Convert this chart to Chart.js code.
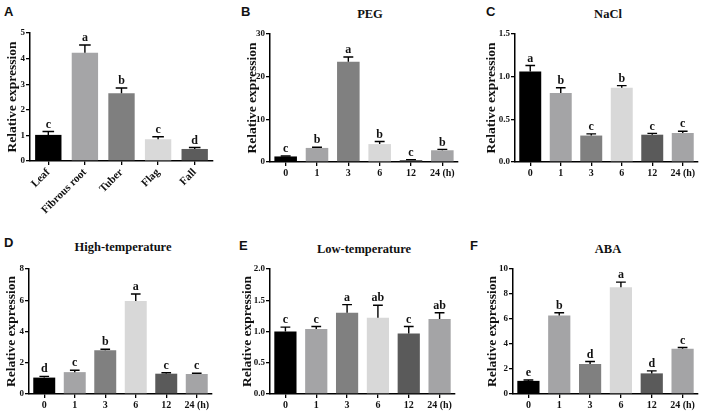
<!DOCTYPE html>
<html>
<head>
<meta charset="utf-8">
<script src="https://cdn.jsdelivr.net/npm/chart.js@4.4.0/dist/chart.umd.min.js"></script>
<style>
  body { margin: 0; background: #fff; width: 708px; height: 411px; position: relative; overflow: hidden; }
  canvas { position: absolute; }
  .tag { position: absolute; font: bold 13px "Liberation Sans", Arial, sans-serif; color: #111; }
  .ttl { position: absolute; font: bold 12.5px "Liberation Serif", "Times New Roman", serif; color: #111; transform: translateX(-50%); white-space: nowrap; }
</style>
</head>
<body>
<div class="tag" style="left:4px;top:4px">A</div>
<div class="tag" style="left:241px;top:4px">B</div>
<div class="tag" style="left:486px;top:4px">C</div>
<div class="tag" style="left:4px;top:235px">D</div>
<div class="tag" style="left:239px;top:238px">E</div>
<div class="tag" style="left:470px;top:238px">F</div>
<div class="ttl" style="left:370px;top:7px">PEG</div>
<div class="ttl" style="left:608px;top:7px">NaCl</div>
<div class="ttl" style="left:123px;top:240px">High-temperature</div>
<div class="ttl" style="left:364px;top:242px">Low-temperature</div>
<div class="ttl" style="left:608px;top:242px">ABA</div>

<canvas id="cA"></canvas>
<canvas id="cB"></canvas>
<canvas id="cC"></canvas>
<canvas id="cD"></canvas>
<canvas id="cE"></canvas>
<canvas id="cF"></canvas>

<script>
// tissues (A)
const tissues = ["Leaf", "Fibrous root", "Tuber", "Flag", "Fall"];
const tissueMeans = [1.02, 4.23, 2.65, 0.85, 0.47];
const tissueSD = [0.13, 0.30, 0.20, 0.10, 0.06];
const tissueSig = ["c", "a", "b", "c", "d"];
const tissueTicks = [0, 1, 2, 3, 4, 5];

// time points for stress treatments
const hours = ["0", "1", "3", "6", "12", "24 (h)"];

const pegMeans = [1.3, 3.3, 23.5, 4.2, 0.45, 2.75];
const pegSD = [0.1, 0.15, 1.1, 0.6, 0.1, 0.2];
const pegSig = ["c", "b", "a", "b", "c", "b"];
const pegTicks = [0, 10, 20, 30];

const naclMeans = [1.06, 0.81, 0.31, 0.87, 0.32, 0.34];
const naclSD = [0.07, 0.06, 0.02, 0.025, 0.015, 0.02];
const naclSig = ["a", "b", "c", "b", "c", "c"];
const naclTicks = [0, 0.5, 1.0, 1.5];

const highMeans = [1.05, 1.4, 2.8, 5.95, 1.3, 1.28];
const highSD = [0.08, 0.12, 0.06, 0.45, 0.06, 0.05];
const highSig = ["d", "c", "b", "a", "c", "c"];
const highTicks = [0, 2, 4, 6, 8];

const lowMeans = [1.0, 1.04, 1.3, 1.22, 0.97, 1.2];
const lowSD = [0.07, 0.04, 0.13, 0.2, 0.11, 0.1];
const lowSig = ["c", "c", "a", "ab", "c", "ab"];
const lowTicks = [0, 0.5, 1.0, 1.5, 2.0];

const abaMeans = [1.05, 6.28, 2.4, 8.55, 1.65, 3.62];
const abaSD = [0.07, 0.22, 0.2, 0.4, 0.2, 0.1];
const abaSig = ["e", "b", "d", "a", "d", "c"];
const abaTicks = [0, 2, 4, 6, 8, 10];

const greys5 = ["#000000", "#a5a5a7", "#7f7f7f", "#d9d9d9", "#5c5c5c"];
const greys6 = ["#000000", "#a4a4a6", "#808080", "#d8d8d8", "#5a5a5a", "#a4a4a6"];

const serif = '"Liberation Serif", "Times New Roman", serif';

// error bars (upper only) + significance letters
const errorBars = {
    id: "errbars",
    afterDatasetsDraw(chart, args, opts) {
        const ctx = chart.ctx;
        const y = chart.scales.y;
        const means = chart.data.datasets[0].data;
        ctx.save();
        ctx.strokeStyle = "#000";
        ctx.lineWidth = 1.4;
        ctx.fillStyle = "#111";
        ctx.font = "bold 12px " + serif;
        ctx.textAlign = "center";
        ctx.textBaseline = "bottom";
        chart.getDatasetMeta(0).data.forEach((bar, i) => {
            const top = y.getPixelForValue(means[i] + opts.sd[i]);
            const half = bar.width * 0.22;
            ctx.beginPath();
            ctx.moveTo(bar.x, bar.y);
            ctx.lineTo(bar.x, top);
            ctx.moveTo(bar.x - half, top);
            ctx.lineTo(bar.x + half, top);
            ctx.stroke();
            ctx.fillText(opts.sig[i], bar.x, top - 1);
        });
        ctx.restore();
    }
};

function makePanel(id, box, plot, titlePad, labels, means, sd, sig, yTicks, decimals, colors, rotate) {
    const canvas = document.getElementById(id);
    canvas.width = box.w;
    canvas.height = box.h;
    canvas.style.left = box.x + "px";
    canvas.style.top = box.y + "px";

    const yWidth = plot.left - box.x;
    const xHeight = box.y + box.h - plot.bottom;

    return new Chart(canvas.getContext("2d"), {
        type: "bar",
        data: {
            labels: labels,
            datasets: [{
                data: means,
                backgroundColor: colors,
                borderWidth: 0,
                barPercentage: 0.72,
                categoryPercentage: 1
            }]
        },
        options: {
            responsive: false,
            animation: false,
            layout: {
                padding: { top: plot.top - box.y, right: box.x + box.w - plot.right, left: 0, bottom: 0 }
            },
            plugins: {
                legend: { display: false },
                tooltip: { enabled: false },
                errbars: { sd: sd, sig: sig }
            },
            scales: {
                x: {
                    offset: true,
                    grid: { display: true, drawOnChartArea: false, offset: false, tickLength: 4, color: "#000", lineWidth: 1.3 },
                    border: { display: true, color: "#000", width: 1.5 },
                    ticks: {
                        color: "#111",
                        autoSkip: false,
                        padding: 1,
                        minRotation: rotate ? 45 : 0,
                        maxRotation: rotate ? 45 : 0,
                        font: { family: serif, weight: "bold", size: rotate ? 11 : 10 }
                    },
                    afterFit(scale) { scale.height = xHeight; }
                },
                y: {
                    min: yTicks[0],
                    max: yTicks[yTicks.length - 1],
                    afterBuildTicks(scale) { scale.ticks = yTicks.map(v => ({ value: v })); },
                    grid: { display: true, drawOnChartArea: false, tickLength: 4, color: "#000", lineWidth: 1.3 },
                    border: { display: true, color: "#000", width: 1.5 },
                    ticks: {
                        color: "#111",
                        padding: 1,
                        font: { family: serif, weight: "bold", size: 9 },
                        callback: v => v.toFixed(decimals)
                    },
                    title: {
                        display: true,
                        text: "Relative expression",
                        color: "#111",
                        padding: { top: titlePad, bottom: 0 },
                        font: { family: serif, weight: "bold", size: 13.5 }
                    },
                    afterFit(scale) { scale.width = yWidth; }
                }
            }
        },
        plugins: [errorBars]
    });
}

makePanel("cA", { x: 0, y: 20, w: 228, h: 200 }, { left: 30, top: 33, right: 213, bottom: 161 }, 4,
    tissues, tissueMeans, tissueSD, tissueSig, tissueTicks, 0, greys5, true);
makePanel("cB", { x: 240, y: 20, w: 228, h: 160 }, { left: 270, top: 34, right: 458, bottom: 162 }, 4,
    hours, pegMeans, pegSD, pegSig, pegTicks, 0, greys6, false);
makePanel("cC", { x: 480, y: 20, w: 228, h: 160 }, { left: 515, top: 34, right: 698, bottom: 162 }, 3,
    hours, naclMeans, naclSD, naclSig, naclTicks, 1, greys6, false);
makePanel("cD", { x: 0, y: 255, w: 228, h: 156 }, { left: 29, top: 269, right: 212, bottom: 394 }, 3,
    hours, highMeans, highSD, highSig, highTicks, 0, greys6, false);
makePanel("cE", { x: 235, y: 255, w: 233, h: 156 }, { left: 270, top: 269, right: 455, bottom: 394 }, 4,
    hours, lowMeans, lowSD, lowSig, lowTicks, 1, greys6, false);
makePanel("cF", { x: 480, y: 255, w: 228, h: 156 }, { left: 513, top: 269, right: 698, bottom: 394 }, 4,
    hours, abaMeans, abaSD, abaSig, abaTicks, 0, greys6, false);
</script>
</body>
</html>
